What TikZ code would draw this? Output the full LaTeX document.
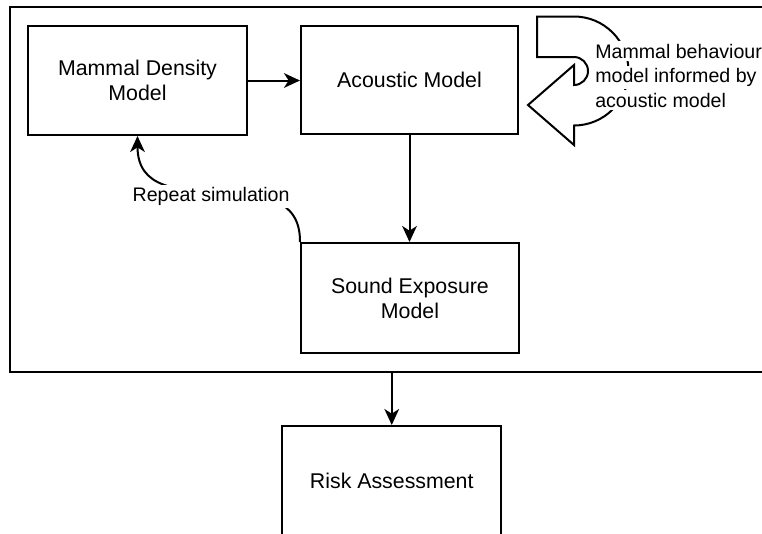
\documentclass[tikz,border=0pt]{standalone}
\usepackage{fontspec}
\setmainfont{Liberation Sans}
\usetikzlibrary{arrows.meta}
\begin{document}
\begin{tikzpicture}[x=0.75pt,y=-0.75pt,
  stroke/.style={line width=1.5pt},
  box/.style={stroke, draw, fill=white, inner sep=0pt, align=center,
    font=\fontsize{16}{18.75}\selectfont},
  conn/.style={stroke, -{Stealth[length=12pt,width=11pt,inset=3.5pt]}},
  lbl/.style={fill=white, inner xsep=0pt, inner ysep=1.8pt,
    font=\fontsize{14.7}{18}\selectfont}]
\useasboundingbox (0,0) rectangle (762,533);
\clip (0,0) rectangle (762,533);

% enclosing simulation frame
\node[stroke, draw, minimum width=592.5pt, minimum height=273.4pt, inner sep=0pt]
  (frame) at (405,189.25) {};

% model boxes
\node[box, minimum width=164.25pt, minimum height=81.75pt] (mdm) at (137.5,80.5)
  {Mammal Density\\Model};
\node[box, minimum width=162.75pt, minimum height=81pt] (am) at (409.5,80)
  {Acoustic Model};
\node[box, minimum width=163.5pt, minimum height=82.5pt] (se) at (410,298)
  {Sound Exposure\\Model};
\node[box, minimum width=163.9pt, minimum height=82.5pt] (ra) at (391.75,481)
  {Risk Assessment};

% U-turn arrow beside the acoustic model
\draw[stroke, fill=white] (537,16.5) -- (574,16.5)
  arc[start angle=-90, end angle=90, radius=54.5]
  -- (574,145) -- (528,105) -- (574,65) -- (574,85)
  arc[start angle=90, end angle=-90, radius=14]
  -- (537,57) -- cycle;
\node[lbl, anchor=base west] (beh1) at (595,58)  {Mammal behaviour};
\node[lbl, anchor=base west] (beh2) at (595,82.5) {model informed by};
\node[lbl, anchor=base west] (beh3) at (595,107) {acoustic model};

% connectors
\draw[conn] (mdm.east) -- (mdm.east -| am.west);
\draw[conn] (am.south) -- (am.south |- se.north);
\draw[conn] (ra.north |- frame.south) -- (ra.north);
\draw[conn] (se.north west) .. controls (301,152) and (137.5,231) .. (mdm.south)
  node[lbl, pos=0.5, xshift=-6pt, yshift=-4.5pt] (rep) {Repeat simulation};
\end{tikzpicture}
\end{document}
